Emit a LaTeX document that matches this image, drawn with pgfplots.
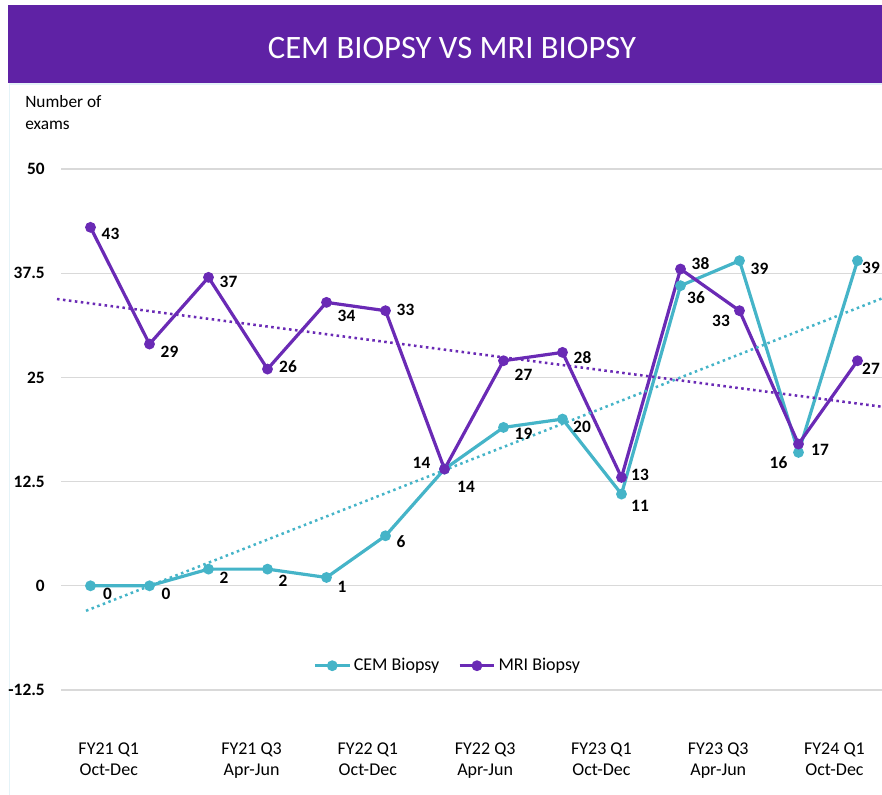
\documentclass[border=0pt]{standalone}
\usepackage{pgfplots}
\pgfplotsset{compat=1.18}
\usepackage{fontspec}
\setmainfont{Carlito}
\definecolor{barpurple}{HTML}{5F22A5}
\definecolor{mripurple}{HTML}{6A2AB5}
\definecolor{cemteal}{HTML}{45B4C8}
\definecolor{gridgray}{HTML}{D9D9D9}
\definecolor{edgeblue}{HTML}{E4F3F8}

\pgfplotsset{
  datalabels/.style={
    nodes near coords,
    point meta=explicit symbolic,
    visualization depends on={value \thisrow{dx}\as\mydx},
    visualization depends on={value \thisrow{dy}\as\mydy},
    every node near coord/.append style={anchor=center, inner sep=0pt, xshift=\mydx*0.75pt, yshift=\mydy*0.75pt, text=black, font=\fontsize{13}{15}\selectfont\bfseries},
  }
}

\begin{document}
\begin{tikzpicture}
\begin{scope}[x=0.75pt,y=0.75pt]
\fill[barpurple] (8,795-83) rectangle (882,795-5);
\draw[edgeblue, line width=1.2pt] (9.5,0) -- (9.5,795-84) -- (882,795-84);
\node[white, anchor=base, inner sep=0pt, font=\fontsize{24.5}{29}\selectfont] at (452,795-59) {CEM BIOPSY VS MRI BIOPSY};
\node[black, anchor=base west, inner sep=0pt, font=\fontsize{13}{16}\selectfont] at (25,795-108) {Number of};
\node[black, anchor=base west, inner sep=0pt, font=\fontsize{13}{16}\selectfont] at (25,795-130) {exams};
\end{scope}
\begin{axis}[
  at={(45.75pt,78.75pt)}, anchor=south west,
  scale only axis, width=619.5pt, height=390.75pt,
  xmin=-0.5, xmax=13.5, ymin=-12.5, ymax=50,
  clip=false,
  axis line style={draw=none},
  tick style={draw=none},
  ytick={-12.5,0,12.5,25,37.5,50},
  yticklabels={-12.5,0,12.5,25,37.5,50},
  yticklabel style={anchor=east, inner sep=0pt, xshift=-12pt, font=\fontsize{13}{15}\selectfont\bfseries},
  ymajorgrids, major grid style={gridgray, line width=0.9pt},
  xtick={0.31,2.73,4.70,6.69,8.66,10.64,12.61},
  xticklabels={{FY21 Q1\\Oct-Dec},{FY21 Q3\\Apr-Jun},{FY22 Q1\\Oct-Dec},{FY22 Q3\\Apr-Jun},{FY23 Q1\\Oct-Dec},{FY23 Q3\\Apr-Jun},{FY24 Q1\\Oct-Dec}},
  xticklabel style={align=center, anchor=north, inner sep=0pt, yshift=-39.75pt, font=\fontsize{13.5}{15.75}\selectfont},
  legend style={at={(0.4685,0.0466)}, anchor=center, draw=none, fill=none,
    legend columns=2, font=\fontsize{13.5}{16}\selectfont,
    /tikz/every even column/.append style={column sep=12pt}},
  legend image code/.code={\draw[mark repeat=2,mark phase=2] plot coordinates {(0pt,0pt) (13pt,0pt) (26pt,0pt)};},
]
\addlegendimage{cemteal, line width=2.4pt, mark=*, mark size=2.8pt, mark options={solid, fill=cemteal}}
\addlegendentry{CEM Biopsy}
\addlegendimage{mripurple, line width=2.4pt, mark=*, mark size=2.8pt, mark options={solid, fill=mripurple}}
\addlegendentry{MRI Biopsy}
\addplot[cemteal, line width=2.4pt, mark=*, mark size=2.8pt, mark options={solid, fill=cemteal}, datalabels, forget plot] table[x=x,y=y,meta=lab] {
x y dx dy lab
0 0 17 -8 0
1 0 16.5 -8 0
2 2 15.5 -9 2
3 2 15.5 -12 2
4 1 15.5 -9 1
5 6 15.5 -6 6
6 14 -23 6 14
7 19 20 -6 19
8 20 19.5 -8 20
9 11 18.5 -12 11
10 36 15.5 -12 36
11 39 20 -8 39
12 16 -20 -10 16
13 39 13.5 -7 39
};
\addplot[mripurple, line width=2.4pt, mark=*, mark size=2.8pt, mark options={solid, fill=mripurple}, datalabels, forget plot] table[x=x,y=y,meta=lab] {
x y dx dy lab
0 43 20 -6.5 43
1 29 20 -8 29
2 37 20 -4.5 37
3 26 20.5 2 26
4 34 20 -14 34
5 33 20 1 33
6 14 21.5 -18 14
7 27 20 -13.7 27
8 28 20 -5.5 28
9 13 18.5 2.5 13
10 38 20 5.5 38
11 33 -18.5 -9.7 33
12 17 21.5 -5.3 17
13 27 13.5 -8 27
};
\addplot[cemteal, line width=1.9pt, dash pattern=on 1.9pt off 2.6pt, forget plot] table {
x y
-0.076 -3.0
13.5 34.71
};
\addplot[mripurple, line width=1.9pt, dash pattern=on 1.9pt off 2.6pt, forget plot] table {
x y
-0.568 34.4
13.5 21.4
};
\end{axis}
\pgfresetboundingbox
\useasboundingbox (0,0) rectangle (661.5pt,596.25pt);
\end{tikzpicture}
\end{document}
